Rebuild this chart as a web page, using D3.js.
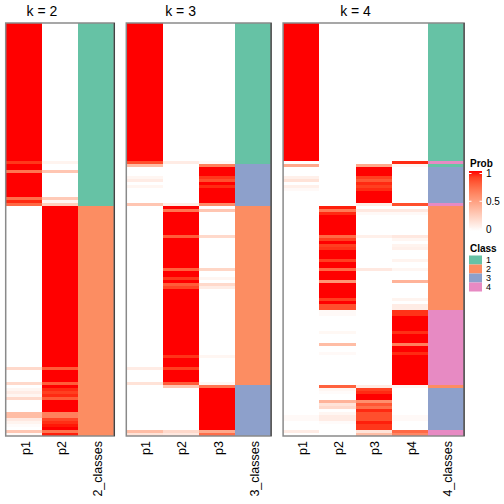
<!DOCTYPE html>
<html><head><meta charset="utf-8">
<script src="https://cdn.jsdelivr.net/npm/d3@7"></script>
<style>body{margin:0;background:#fff}svg{display:block}text{font-family:"Liberation Sans",Arial,Helvetica,sans-serif}</style>
</head><body><svg id="c" width="504" height="504"></svg>
<script>
// Row runs: [number of rows, class, p1, p2, ...]
const k2Runs = [
 [46,1,1,0],[1,1,0.92,0.06],[2,1,1,0],[1,1,0.7,0.3],[8,1,1,0],[1,1,0.72,0.28],[1,1,0.95,0.05],[1,1,0.75,0.25],
 [54,2,0,1],[1,2,0.2,0.8],[4,2,0,1],[1,2,0.2,0.8],[1,2,0,1],[1,2,0.05,0.95],[1,2,0.1,0.9],[1,2,0.05,0.95],
 [1,2,0.2,0.8],[4,2,0,1],[2,2,0.35,0.65],[1,2,0.12,0.88],[1,2,0.06,0.94],[1,2,0.02,0.98],[1,2,0,1],[1,2,0.3,0.7],[1,2,0.03,0.97]
];
const k3Runs = [
 [46,1,1,0,0],[1,1,0.85,0.1,0.03],
 [1,3,0.35,0,0.65],[3,3,0,0,1],[1,3,0.05,0,0.92],[1,3,0.1,0,0.85],[1,3,0,0,1],[1,3,0.05,0,0.95],[5,3,0,0,1],[1,3,0.3,0.1,0.6],
 [1,2,0,1,0],[1,2,0,0.7,0.3],[8,2,0,1,0],[1,2,0,0.8,0.2],[10,2,0,1,0],[1,2,0,0.78,0.22],[2,2,0,1,0],[1,2,0,0.92,0.05],
 [1,2,0,1,0],[1,2,0,0.8,0.2],[1,2,0,0.88,0.1],[22,2,0,1,0],[1,2,0,0.93,0.05],[3,2,0,1,0],[1,2,0.1,0.9,0],[4,2,0,1,0],[1,2,0.15,0.8,0.05],
 [1,3,0,0.3,0.7],[14,3,0,0,1],[1,3,0.35,0.2,0.45],[1,3,0.15,0.12,0.73]
];
const k4Runs = [
 [46,1,1,0,0,0],[1,4,0,0,0,0.95],[1,1,0.45,0,0.45,0.05],
 [3,3,0,0,1,0],[1,3,0.08,0,0.9,0],[1,3,0.15,0,0.82,0],[1,3,0,0,0.95,0],[1,3,0.08,0,0.9,0],[1,3,0.03,0,0.95,0],[4,3,0,0,1,0],
 [1,4,0,0,0.1,0.85],
 [1,2,0,0.97,0,0],[1,2,0,0.68,0.12,0.12],[1,2,0,0.95,0.03,0.03],[7,2,0,1,0,0],[1,2,0,0.75,0.08,0.12],[1,2,0,0.9,0,0.05],
 [1,2,0,1,0,0],[1,2,0,0.9,0,0.06],[1,2,0,0.93,0,0.08],[3,2,0,1,0,0],[1,2,0,0.9,0,0.06],[2,2,0,1,0,0],[1,2,0,0.75,0.12,0.05],
 [3,2,0,1,0,0],[1,2,0,0.55,0,0.4],[5,2,0,1,0,0],[1,2,0,0.9,0,0.06],[1,2,0,1,0,0],[2,2,0,0.85,0,0.1],
 [2,4,0,0.03,0,0.93],[5,4,0,0,0,1],[1,4,0,0.04,0,0.94],[3,4,0,0,0,1],[1,4,0,0.35,0,0.65],[2,4,0,0,0,1],[1,4,0,0.03,0,0.95],[10,4,0,0,0,1],
 [1,2,0,0.78,0.1,0.05],
 [1,3,0,0.05,0.9,0],[1,3,0,0.02,0.95,0],[2,3,0,0,1,0],[1,3,0,0.4,0.58,0],[1,3,0,0.15,0.82,0],[1,3,0,0.2,0.72,0],[1,3,0,0,0.95,0],
 [1,3,0,0.05,0.85,0],[2,3,0.03,0.1,0.85,0.03],[1,3,0,0.02,0.97,0],[2,3,0,0,0.92,0],
 [1,4,0.1,0,0.15,0.75],[1,4,0,0,0.35,0.62]
];
const classes = ["1","2","3","4"];
const classColors = ["#66C2A5","#FC8D62","#8DA0CB","#E78AC3"];
const probTicks = [0,0.5,1];

const svg = d3.select("#c");
const color = d3.scaleLinear().domain([0,1]).range(["#ffffff","#ff0000"]).interpolate(d3.interpolateLab);
const clsColor = d3.scaleOrdinal().domain(classes).range(classColors);

const expand = runs => runs.flatMap(r => d3.range(r[0]).map(() => ({cls: String(r[1]), p: r.slice(2)})));
const yTop = 23, yBottom = 436, cw = 36.2, gap = 12;
const panels = [{k:2, runs:k2Runs},{k:3, runs:k3Runs},{k:4, runs:k4Runs}];
let x0 = 5.7;
panels.forEach(pn => {
  const rows = expand(pn.runs);
  const cols = d3.range(pn.k).map(i => "p" + (i+1)).concat([pn.k + "_classes"]);
  const x = d3.scaleBand().domain(cols).range([x0, x0 + cols.length*cw]);
  const y = d3.scaleBand().domain(d3.range(rows.length)).range([yTop, yBottom]);
  const g = svg.append("g").attr("shape-rendering","crispEdges");
  rows.forEach((r, i) => {
    r.p.forEach((v, j) => {
      g.append("rect").attr("x", x(cols[j])).attr("y", y(i))
        .attr("width", x.bandwidth()).attr("height", y.bandwidth())
        .attr("fill", color(v));
    });
    g.append("rect").attr("x", x(cols[pn.k])).attr("y", y(i))
      .attr("width", x.bandwidth()).attr("height", y.bandwidth())
      .attr("fill", clsColor(r.cls));
  });
  svg.append("rect").attr("x", x0).attr("y", yTop).attr("width", cols.length*cw).attr("height", yBottom-yTop)
    .attr("fill","none").attr("stroke","#8a8a8a").attr("stroke-width",1.5);
  svg.append("line").attr("x1", x0+cols.length*cw).attr("x2", x0+cols.length*cw).attr("y1", yTop).attr("y2", yBottom)
    .attr("stroke","#333").attr("stroke-width",1);
  const pc = (x(cols[0]) + x(cols[pn.k-1]) + x.bandwidth())/2;
  svg.append("text").attr("x", pc).attr("y", 16).attr("text-anchor","middle")
    .attr("font-size", 14).attr("fill","#000").text("k = " + pn.k);
  cols.forEach(c => {
    const cx = x(c) + x.bandwidth()/2 + 1.5;
    svg.append("text").attr("transform", `translate(${cx},441) rotate(-90)`)
      .attr("text-anchor","end").attr("dy","0.35em").attr("font-size",12.5).attr("fill","#000").text(c);
  });
  x0 += cols.length*cw + gap;
});

// Legend: Prob
const lx = 469;
svg.append("text").attr("x", lx+1).attr("y", 167).attr("font-size",10).attr("font-weight","bold").text("Prob");
const defs = svg.append("defs");
const grad = defs.append("linearGradient").attr("id","pg").attr("x1",0).attr("x2",0).attr("y1",1).attr("y2",0);
d3.range(0,1.0001,0.1).forEach(t => grad.append("stop").attr("offset", t).attr("stop-color", color(t)));
const ly = d3.scaleLinear().domain([0,1]).range([229,173.5]);
svg.append("rect").attr("x", lx).attr("y", 171).attr("width", 13).attr("height", 60).attr("fill","url(#pg)");
probTicks.forEach(t => {
  svg.append("line").attr("x1",lx).attr("x2",lx+2.5).attr("y1",ly(t)).attr("y2",ly(t)).attr("stroke","#fff").attr("stroke-width",1);
  svg.append("line").attr("x1",lx+10.5).attr("x2",lx+13).attr("y1",ly(t)).attr("y2",ly(t)).attr("stroke","#fff").attr("stroke-width",1);
  svg.append("text").attr("x", lx+17).attr("y", ly(t)).attr("dy","0.35em").attr("font-size",10).text(t === 0.5 ? "0.5" : String(t));
});
// Legend: Class
svg.append("text").attr("x", lx+1).attr("y", 252).attr("font-size",10).attr("font-weight","bold").text("Class");
classes.forEach((c, i) => {
  svg.append("rect").attr("x", lx).attr("y", 255.5 + i*9).attr("width", 13).attr("height", 9).attr("fill", clsColor(c));
  svg.append("text").attr("x", lx+17).attr("y", 260 + i*9).attr("dy","0.35em").attr("font-size",9).text(c);
});
</script></body></html>
